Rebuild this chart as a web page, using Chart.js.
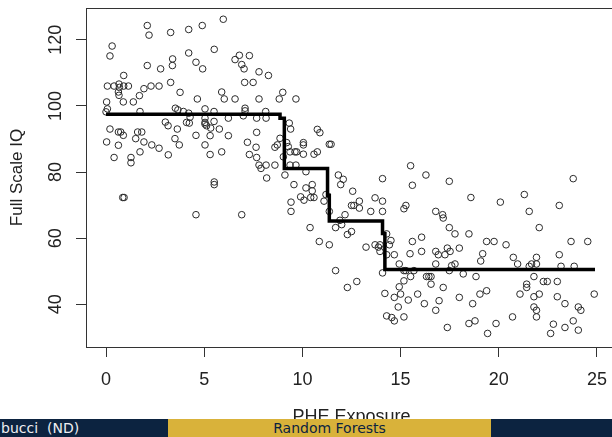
<!DOCTYPE html>
<html><head><meta charset="utf-8">
<script src="https://cdn.jsdelivr.net/npm/chart.js@4.4.1/dist/chart.umd.min.js"></script>
<style>
html,body{margin:0;padding:0;background:#fff;overflow:hidden;width:612px;height:437px;}
#wrap{position:relative;width:612px;height:437px;overflow:hidden;}
canvas{position:absolute;left:0;top:0;}
.foot{position:absolute;top:419px;height:18px;line-height:18px;font-family:'DejaVu Sans',sans-serif;font-size:14px;white-space:nowrap;overflow:hidden;}
</style></head><body>
<div id="wrap">
<canvas id="c" width="630" height="437" style="width:630px;height:437px"></canvas>
<div class="foot" style="left:0;width:168px;background:#0c2340;color:#eeeef2;padding-left:1px;box-sizing:border-box;">bucci&nbsp; (ND)</div>
<div class="foot" style="left:168px;width:323px;background:#d9b23a;color:#0c2340;text-align:center;">Random Forests</div>
<div class="foot" style="left:491px;width:121px;background:#0c2340;"></div>
</div>
<script>
// PHE exposure (x) and Full Scale IQ (y) of each subject
const phe = [2.10,2.19,3.29,4.21,4.90,0.31,0.20,2.10,2.78,3.39,3.38,4.21,4.58,4.92,0.90,0.07,0.41,0.66,0.68,0.90,1.14,0.63,0.66,1.93,2.29,2.70,3.29,3.77,1.70,1.39,0.88,0.03,0.07,0.00,1.73,3.53,3.66,3.94,4.21,4.28,4.65,3.02,3.16,3.63,4.10,4.24,4.58,0.20,0.63,0.75,0.88,1.51,1.61,1.82,1.93,2.33,2.70,0.03,0.63,1.73,0.41,1.27,1.27,3.17,3.51,3.73,
0.85,0.92,4.58,
5.30,5.89,7.30,7.67,7.79,7.89,8.15,8.60,8.18,9.11,9.57,5.51,5.51,6.91,9.42,9.42,9.37,9.67,
5.97,5.51,6.79,6.57,7.30,6.91,7.03,7.79,8.27,7.06,7.49,5.89,6.02,6.57,7.79,8.82,9.00,9.67,5.04,5.50,7.08,7.08,8.13,5.04,6.23,6.99,7.67,8.15,5.04,5.12,5.04,5.50,5.33,5.77,9.33,9.40,5.30,6.23,7.67,5.04,7.20,7.64,8.60,8.72,8.86,9.20,9.28,9.03,
10.76,10.89,10.05,10.05,11.37,11.46,9.37,9.62,9.71,10.05,10.59,10.76,10.18,10.18,10.50,10.50,9.91,10.08,10.42,10.59,11.10,11.20,11.83,12.08,11.95,12.56,12.50,12.62,12.90,12.90,11.37,12.17,13.48,13.70,14.08,14.08,14.08,11.91,12.00,11.69,12.50,12.29,10.39,10.86,11.37,13.24,13.70,13.95,14.29,14.51,14.43,14.68,14.29,13.95,13.87,14.08,11.69,12.29,12.77,14.20,14.68,14.93,14.88,14.29,14.55,14.68,14.93,
15.51,16.29,15.60,17.48,18.58,15.17,15.27,16.79,17.14,17.17,17.48,17.77,18.48,15.60,16.07,15.48,16.07,16.79,16.92,17.26,17.38,17.52,17.99,19.38,19.76,19.18,19.08,15.17,15.27,15.68,16.79,17.48,17.60,17.77,18.19,18.84,15.51,16.32,16.44,16.55,16.55,17.17,15.17,15.00,15.39,15.87,16.21,16.96,16.79,17.99,18.67,19.04,19.38,15.17,17.38,18.48,18.79,19.43,19.86,
23.79,20.08,21.30,21.55,23.08,22.06,20.37,23.68,24.53,23.08,20.74,20.96,21.55,21.67,21.92,21.92,23.17,23.84,21.79,21.42,21.42,22.27,22.47,22.98,21.08,21.79,22.06,22.98,23.37,24.86,24.05,24.18,21.79,21.92,21.92,20.70,22.78,22.64,23.37,23.79,24.05];
const iq = [124.3,121.4,122.2,123.1,124.3,118.1,115.1,112.2,111.2,114.2,112.2,116.0,113.2,111.2,109.2,106.0,106.0,106.6,105.6,106.0,106.0,104.2,103.2,105.2,106.0,106.0,107.1,104.1,103.1,101.2,101.2,101.2,99.1,98.2,98.3,99.3,98.8,98.3,97.8,96.6,102.1,95.1,94.0,93.0,95.0,94.8,91.1,93.0,92.1,92.1,91.1,90.1,92.1,92.1,89.1,88.2,87.2,89.1,88.1,86.1,84.4,84.4,82.8,85.2,90.1,88.2,
72.3,72.3,67.1,
85.3,86.1,85.3,84.4,82.1,81.1,82.1,82.1,78.2,79.1,76.2,77.0,76.2,67.1,70.9,68.1,82.1,82.1,
126.2,117.1,115.3,114.0,115.2,112.5,111.2,110.3,109.2,107.1,107.1,104.2,102.1,102.1,102.1,102.1,104.1,102.1,99.1,98.3,99.3,98.5,98.3,96.3,96.3,97.0,96.3,96.3,95.0,94.0,94.5,95.3,93.3,93.0,94.8,93.0,91.0,91.0,92.0,88.2,89.0,87.5,87.5,88.2,90.2,88.9,87.7,84.6,
92.9,91.9,88.9,88.2,88.4,88.4,86.1,86.1,86.1,85.4,85.4,86.1,80.1,75.2,76.2,74.3,72.5,71.5,72.3,72.3,71.2,73.2,79.1,77.8,76.2,74.2,69.9,69.9,71.2,69.1,68.1,67.1,68.1,72.2,71.2,68.1,78.0,65.4,64.1,63.2,62.0,61.1,63.2,59.0,58.0,57.3,58.0,58.0,61.3,59.3,58.0,55.0,55.0,56.0,57.3,49.5,50.2,45.1,46.9,43.3,42.1,45.3,39.2,36.5,36.0,35.0,52.2,
81.9,79.1,76.0,77.2,72.3,68.9,69.9,68.1,67.1,66.1,63.2,61.3,61.3,59.0,60.3,55.3,56.0,56.0,55.0,55.0,57.0,56.0,57.0,59.0,59.0,55.3,53.1,50.2,50.2,50.2,52.2,50.2,51.7,52.2,49.2,48.4,48.4,48.4,48.4,48.4,46.1,45.1,47.1,43.1,41.3,43.1,40.2,41.1,38.2,42.1,40.2,43.1,44.1,36.2,33.0,34.2,35.0,31.2,34.2,
78.0,70.9,73.2,68.1,69.9,63.2,58.0,59.0,59.0,55.0,54.2,52.2,51.5,52.2,54.2,52.2,51.5,51.5,48.4,46.1,45.1,46.9,46.9,46.9,43.1,42.3,43.1,42.3,40.2,43.1,39.2,38.2,39.2,38.2,36.2,36.2,34.0,31.2,33.0,35.0,32.2];

// Random forest prediction (step function)
const stepX = [0, 8.86, 8.86, 9.08, 9.08, 11.28, 11.28, 11.37, 11.37, 14.08, 14.08, 14.20, 14.20, 24.9];
const stepY = [97.5, 97.5, 96.3, 96.3, 81.1, 81.1, 73.0, 73.0, 65.2, 65.2, 61.4, 61.4, 50.5, 50.5];

const xTicks = [0, 5, 10, 15, 20, 25];
const yTicks = [40, 60, 80, 100, 120];
const xTitle = 'PHE Exposure';
const yTitle = 'Full Scale IQ';

const FONT = "'Liberation Sans', Arial, sans-serif";
const INK = '#222';
const AX = '#333';

const boxPlugin = {
  id: 'rbox',
  afterDatasetsDraw(chart) {
    const {ctx, chartArea: a} = chart;
    ctx.save();
    ctx.strokeStyle = AX; ctx.lineWidth = 1;
    ctx.strokeRect(Math.round(a.left) + 0.5, Math.round(a.top) + 0.5,
                   Math.round(a.right - a.left), Math.round(a.bottom - a.top));
    ctx.restore();
  }
};

new Chart(document.getElementById('c'), {
  type: 'scatter',
  data: {
    datasets: [
      {
        type: 'line',
        data: stepX.map((x, i) => ({x, y: stepY[i]})),
        borderColor: '#000', borderWidth: 3.5, pointRadius: 0,
        fill: false, tension: 0, order: 0, borderJoinStyle: 'miter', borderCapStyle: 'butt'
      },
      {
        data: phe.map((x, i) => ({x, y: iq[i]})),
        pointStyle: 'circle', pointRadius: 3.3, borderWidth: 1,
        borderColor: '#2a2a2a', backgroundColor: 'rgba(0,0,0,0)', order: 1
      }
    ]
  },
  options: {
    responsive: false, animation: false, devicePixelRatio: 1,
    layout: {padding: {left: 0, top: 8, right: 13, bottom: 0}},
    plugins: {legend: {display: false}, tooltip: {enabled: false}},
    scales: {
      x: {
        type: 'linear', min: -1.02, max: 26.02,
        afterBuildTicks: s => { s.ticks = xTicks.map(v => ({value: v})); },
        afterFit: s => { s.height = 90; s.paddingLeft = 0; s.paddingRight = 0; },
        grid: {drawOnChartArea: false, drawTicks: true, tickLength: 10, color: AX},
        border: {display: true, color: AX},
        ticks: {font: {family: FONT, size: 18}, color: INK, padding: 12, maxRotation: 0, minRotation: 0, autoSkip: false},
        title: {display: true, text: xTitle, font: {family: FONT, size: 18}, color: INK, padding: {top: 0, bottom: 9}}
      },
      y: {
        type: 'linear', min: 27.1, max: 129.6,
        afterBuildTicks: s => { s.ticks = yTicks.map(v => ({value: v})); },
        afterFit: s => { s.width = 86; s.paddingTop = 0; s.paddingBottom = 0; },
        grid: {drawOnChartArea: false, drawTicks: true, tickLength: 10, color: AX},
        border: {display: true, color: AX},
        ticks: {font: {family: FONT, size: 18}, color: INK, padding: 5, minRotation: 90, maxRotation: 90, crossAlign: 'center', autoSkip: false},
        title: {display: true, text: yTitle, font: {family: FONT, size: 17}, color: INK, padding: {top: 7, bottom: 0}}
      }
    }
  },
  plugins: [boxPlugin]
});
</script>
</body></html>
